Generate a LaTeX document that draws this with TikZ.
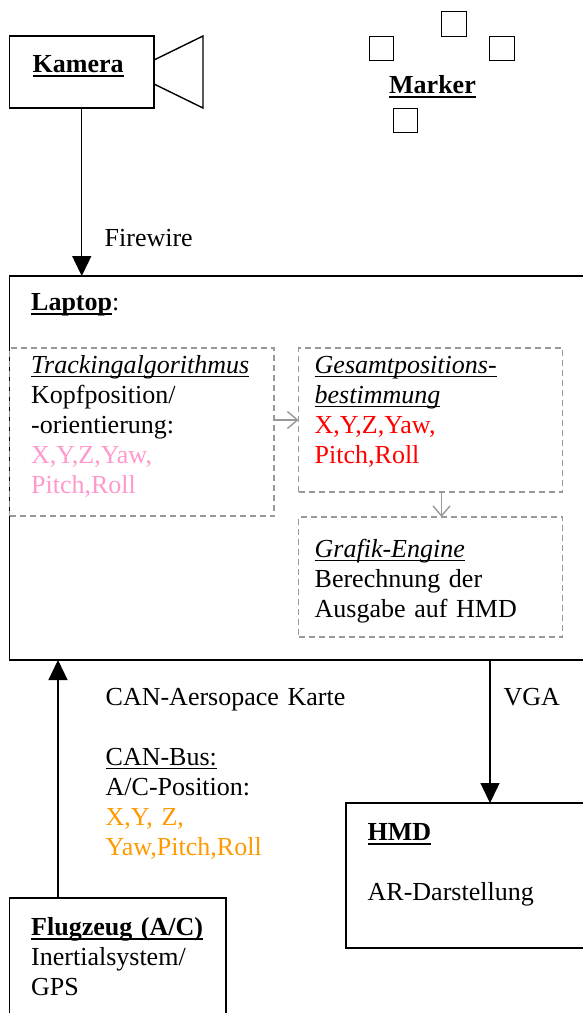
\documentclass[tikz,border=0pt]{standalone}
\usepackage{fontspec}
\setmainfont{Liberation Serif}
\usetikzlibrary{arrows.meta}
\definecolor{pinktxt}{HTML}{FF99CC}
\definecolor{redtxt}{HTML}{FF0000}
\definecolor{orangetxt}{HTML}{FF9900}
\definecolor{dashgray}{HTML}{999999}
\newcommand{\ulin}[2][1.3pt]{\leavevmode\setbox0=\hbox{#2}\rlap{\raisebox{-3pt}{\rule[-#1]{\wd0}{#1}}}\box0}
\begin{document}
\begin{tikzpicture}[x=1pt, y=-1pt, line width=1.4pt,
  box/.style={draw=black, anchor=north west, inner sep=0pt, outer sep=0pt},
  dbox/.style={draw=dashgray, dash pattern=on 6pt off 4pt, anchor=north west, inner sep=0pt, outer sep=0pt},
  mk/.style={draw=black, minimum size=24.5pt, inner sep=0pt},
  txt/.style={anchor=base west, align=left, text width=260pt, inner sep=0pt},
  conn/.style={-{Triangle[length=20pt,width=19pt]}},
  garr/.style={draw=dashgray, -{Straight Barb[length=10pt,width=17pt]}}]
\useasboundingbox (0,0) rectangle (583,1013);
\clip (0,0) rectangle (583,1013);
\begin{scope}[every node/.style={font=\fontsize{26}{30}\selectfont}]
\node[box, minimum width=144.5pt, minimum height=72pt] (kamera) at (9.5,36) {};
\node[box, minimum width=600pt, minimum height=384pt] (laptop) at (9.5,276) {};
\node[dbox, minimum width=264.5pt, minimum height=168pt] (track) at (9.5,348) {};
\node[dbox, minimum width=264pt, minimum height=144pt] (gesamt) at (298.5,348) {};
\node[dbox, minimum width=264pt, minimum height=120pt] (grafik) at (298.5,517) {};
\node[box, minimum width=260pt, minimum height=145pt] (hmd) at (346,803) {};
\node[box, minimum width=216.5pt, minimum height=140pt] (flug) at (9.5,898) {};
\foreach \n/\x/\y in {m1/381.5/48.5, m2/454/24, m3/502/48.5, m4/405.5/120.5}
  \node[mk] (\n) at (\x,\y) {};

\node[txt] (tkamera) at (32,72) {\ulin[2pt]{\textbf{Kamera}}};
\node[txt] (tmarker) at (388.5,93) {\ulin[2pt]{\textbf{Marker}}};
\node[txt] (tfire) at (104,246) {Firewire};
\node[txt] (tlaptop) at (30.5,310) {\ulin[2pt]{\textbf{Laptop}}:};
\node[txt] (ttrack) at (30.5,373) {\ulin{\textit{Trackingalgorithmus}}\\ Kopfposition/\\ -orientierung:\\
  \textcolor{pinktxt}{X,Y,Z,Yaw,}\\ \textcolor{pinktxt}{Pitch,Roll}};
\node[txt] (tgesamt) at (314,373) {\ulin{\textit{Gesamtpositions-}}\\ \ulin{\textit{bestimmung}}\\
  \textcolor{redtxt}{X,Y,Z,Yaw,}\\ \textcolor{redtxt}{Pitch,Roll}};
\node[txt] (tgrafik) at (314,557) {\ulin{\textit{Grafik-Engine}}\\ Berechnung der\\ Ausgabe auf HMD};
\node[txt] (tcan) at (105,705) {CAN-Aersopace Karte\\[30pt] \ulin{CAN-Bus:}\\ A/C-Position:\\
  \textcolor{orangetxt}{X,Y, Z,}\\ \textcolor{orangetxt}{Yaw,Pitch,Roll}};
\node[txt] (tvga) at (503,705) {VGA};
\node[txt] (thmd) at (367,840) {\ulin[2pt]{\textbf{HMD}}\\[30pt] AR-Darstellung};
\node[txt] (tflug) at (30.5,935) {\ulin[2pt]{\textbf{Flugzeug (A/C)}}\\ Inertialsystem/\\ GPS};
\end{scope}

\draw (154,60) -- (203,36) -- (203,108) -- (154,84);
\coordinate (canfoot) at (58,898);
\coordinate (hmdin) at (490,803);
\draw[conn] (kamera.south) -- (kamera.south |- laptop.north);
\draw[conn] (canfoot) -- (canfoot |- laptop.south);
\draw[conn] (hmdin |- laptop.south) -- (hmdin);
\draw[garr] (gesamt.west -| track.east) -- (gesamt.west);
\draw[garr] ([xshift=11pt]gesamt.south) -- ([xshift=11pt]grafik.north);
\end{tikzpicture}
\end{document}
